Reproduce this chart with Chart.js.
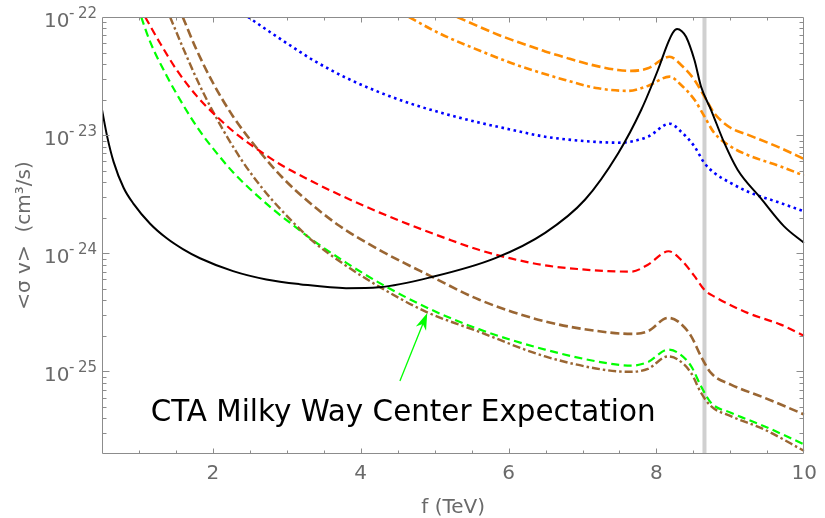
<!DOCTYPE html>
<html>
<head>
<meta charset="utf-8">
<script src="https://cdn.jsdelivr.net/npm/chart.js@4.4.1/dist/chart.umd.min.js"></script>
<style>
  html, body { margin: 0; padding: 0; background: #ffffff; }
  #c { display: block; }
</style>
</head>
<body>
<canvas id="c" width="825" height="518"></canvas>
<script>
// ---- data: f in TeV, <sigma v> in cm^3/s ----
const blackF  = [0.5, 0.568, 0.657, 0.792, 0.927, 1.151, 1.376, 1.600, 1.825, 2.273, 2.723, 3.172, 3.801, 4.249, 4.963, 5.821, 6.494, 7.033, 7.481, 7.795, 8.020, 8.155, 8.222, 8.280, 8.343, 8.401, 8.515, 8.603, 8.738, 8.918, 9.098, 9.411, 9.727, 10.0];
const blackSV = [1.64e-23, 9.86e-24, 5.94e-24, 3.59e-24, 2.62e-24, 1.78e-24, 1.34e-24, 1.08e-24, 9.08e-25, 7.06e-25, 6.0e-25, 5.48e-25, 5.07e-25, 5.16e-25, 6.3e-25, 9.1e-25, 1.49e-24, 2.84e-24, 7.0e-24, 1.64e-23, 3.56e-23, 6.0e-23, 7.36e-23, 7.9e-23, 7.57e-23, 6.8e-23, 4.3e-23, 2.58e-23, 1.64e-23, 8.6e-24, 5.1e-24, 2.93e-24, 1.69e-24, 1.22e-24];

const blueF  = [2.475, 2.812, 3.172, 3.351, 3.801, 4.249, 4.698, 5.148, 5.596, 6.044, 6.494, 6.943, 7.212, 7.481, 7.885, 8.178, 8.334, 8.515, 8.649, 8.784, 9.007, 9.232, 9.681, 10.0];
const blueSV = [1.0e-22, 7.18e-23, 5.1e-23, 4.33e-23, 3.06e-23, 2.31e-23, 1.83e-23, 1.51e-23, 1.28e-23, 1.11e-23, 9.7e-24, 9.0e-24, 8.74e-24, 8.63e-24, 9.7e-24, 1.25e-23, 1.07e-23, 8.0e-24, 5.8e-24, 4.78e-24, 3.93e-24, 3.33e-24, 2.66e-24, 2.26e-24];

const orangeF  = [5.304, 5.596, 5.865, 6.044, 6.314, 6.494, 6.764, 6.943, 7.212, 7.481, 7.661, 7.885, 8.178, 8.334, 8.515, 8.649, 8.784, 9.007, 9.232, 9.681, 10.0];
const orangeSV = [1.0e-22, 8.3e-23, 7.05e-23, 6.4e-23, 5.6e-23, 5.11e-23, 4.55e-23, 4.21e-23, 3.82e-23, 3.56e-23, 3.5e-23, 3.68e-23, 4.61e-23, 3.93e-23, 2.93e-23, 2.12e-23, 1.53e-23, 1.15e-23, 1.01e-23, 7.76e-24, 6.27e-24];

const orangeDotF  = [4.653, 5.057, 5.640, 6.044, 6.314, 6.764, 7.212, 7.616, 7.885, 8.178, 8.334, 8.515, 8.649, 8.784, 9.007, 9.232, 9.681, 10.0];
const orangeDotSV = [1.0e-22, 7.3e-23, 5.1e-23, 4.06e-23, 3.56e-23, 2.93e-23, 2.49e-23, 2.37e-23, 2.61e-23, 3.13e-23, 2.66e-23, 1.99e-23, 1.44e-23, 1.04e-23, 8.0e-24, 6.8e-24, 5.43e-24, 4.53e-24];

const redF  = [1.084, 1.286, 1.511, 1.780, 2.050, 2.364, 2.677, 2.902, 3.351, 3.801, 4.249, 4.698, 5.148, 5.596, 6.044, 6.494, 6.943, 7.347, 7.661, 7.885, 8.164, 8.334, 8.515, 8.649, 8.784, 9.232, 9.681, 10.0];
const redSV = [1.0e-22, 6.0e-23, 3.56e-23, 2.15e-23, 1.44e-23, 9.7e-24, 7.05e-24, 5.7e-24, 4.03e-24, 2.95e-24, 2.22e-24, 1.71e-24, 1.34e-24, 1.07e-24, 9.0e-25, 7.9e-25, 7.35e-25, 7.06e-25, 7.0e-25, 8.0e-25, 1.04e-24, 8.8e-25, 6.4e-25, 4.9e-25, 4.3e-25, 3.13e-25, 2.49e-25, 2.0e-25];

const brownF  = [1.592, 1.780, 2.004, 2.273, 2.633, 2.943, 3.262, 3.710, 4.249, 4.967, 5.596, 6.494, 7.347, 7.661, 7.885, 8.155, 8.290, 8.469, 8.603, 8.738, 9.007, 9.457, 10.0];
const brownSV = [1.0e-22, 5.26e-23, 2.75e-23, 1.44e-23, 7.26e-24, 4.36e-24, 2.84e-24, 1.71e-24, 1.07e-24, 6.31e-25, 4.06e-25, 2.65e-25, 2.14e-25, 2.08e-25, 2.19e-25, 2.84e-25, 2.65e-25, 1.99e-25, 1.34e-25, 9.7e-26, 7.74e-26, 6.0e-26, 4.32e-26];

const brownDotF  = [1.421, 1.600, 1.780, 1.960, 2.185, 2.408, 2.677, 2.902, 3.351, 3.801, 4.249, 4.878, 5.596, 6.494, 7.347, 7.661, 7.885, 8.155, 8.290, 8.469, 8.603, 8.738, 9.007, 9.457, 10.0];
const brownDotSV = [1.0e-22, 5.4e-23, 3.0e-23, 1.77e-23, 9.86e-24, 5.9e-24, 3.5e-24, 2.41e-24, 1.27e-24, 7.85e-25, 5.22e-25, 3.21e-25, 2.17e-25, 1.34e-25, 1.02e-25, 9.93e-26, 1.05e-25, 1.34e-25, 1.26e-25, 9.7e-26, 6.6e-26, 5.08e-26, 4.18e-26, 3.23e-26, 2.12e-26];

const greenF  = [1.030, 1.152, 1.376, 1.600, 1.825, 2.050, 2.273, 2.498, 2.812, 3.172, 3.351, 3.801, 4.294, 4.923, 5.596, 6.494, 7.347, 7.661, 7.885, 8.155, 8.290, 8.469, 8.603, 8.738, 9.007, 9.457, 10.0];
const greenSV = [1.0e-22, 6.15e-23, 3.17e-23, 1.79e-23, 1.08e-23, 7.08e-24, 4.85e-24, 3.52e-24, 2.36e-24, 1.57e-24, 1.29e-24, 8.34e-25, 5.43e-25, 3.4e-25, 2.28e-25, 1.53e-25, 1.17e-25, 1.12e-25, 1.20e-25, 1.53e-25, 1.44e-25, 1.11e-25, 7.5e-26, 5.43e-26, 4.47e-26, 3.44e-26, 2.41e-26];

// vertical reference band
const bandF = 8.65;

// axes
const xTicks = [2, 4, 6, 8, 10];
const yDecades = [1e-25, 1e-24, 1e-23, 1e-22];
const X_MIN = 0.5, X_MAX = 10;
const Y_MIN = 2.03e-26, Y_MAX = 1e-22;

// annotation
const noteText = 'CTA Milky Way Center Expectation';
const notePos = { x: 1.158, y: 3.79e-26 };
const arrowTail = { x: 4.53, y: 8.3e-26 };
const arrowTip  = { x: 4.90, y: 3.13e-25 };

// ---- styles ----
const FONT = "'DejaVu Sans', sans-serif";
const TEXT_GRAY = '#6a6a6a';
const FRAME_GRAY = '#8c8c8c';
const BROWN = '#9a6633';
const ORANGE = '#ff8c00';
const GREEN = '#00ff00';

const pts = (f, s) => f.map((x, i) => ({ x: x, y: s[i] }));

function series(data, color, width, dash) {
  return {
    data: data,
    borderColor: color,
    borderWidth: width,
    borderDash: dash,
    borderCapStyle: 'butt',
    pointRadius: 0,
    fill: false,
    cubicInterpolationMode: 'monotone',
    order: 1
  };
}

const datasets = [
  series(pts(blackF, blackSV), '#000000', 2, []),
  series(pts(blueF, blueSV), '#0000ff', 2.6, [2.6, 3.6]),
  series(pts(orangeF, orangeSV), ORANGE, 2.6, [9, 4]),
  series(pts(orangeDotF, orangeDotSV), ORANGE, 2.6, [8, 3.5, 3, 3.5]),
  series(pts(redF, redSV), '#ff0000', 2.2, [8, 4.5]),
  series(pts(brownF, brownSV), BROWN, 2.6, [9, 4]),
  series(pts(brownDotF, brownDotSV), BROWN, 2.4, [8, 3, 2.5, 3]),
  series(pts(greenF, greenSV), GREEN, 2.2, [8, 4.5]),
  {
    data: [{ x: bandF, y: Y_MIN }, { x: bandF, y: Y_MAX }],
    borderColor: 'rgba(200,200,200,0.85)',
    borderWidth: 4,
    pointRadius: 0,
    fill: false,
    order: 10
  }
];

// box frame with inward ticks on all four sides, plus power-of-ten labels
const framePlugin = {
  id: 'frame',
  afterDatasetsDraw(chart) {
    const { ctx, chartArea: a, scales: { x, y } } = chart;
    const L = Math.round(a.left) + 0.5, R = Math.round(a.right) - 0.5;
    const T = Math.round(a.top) + 0.5, B = Math.round(a.bottom) - 0.5;
    ctx.save();
    ctx.strokeStyle = FRAME_GRAY;
    ctx.lineWidth = 1;
    ctx.beginPath();
    ctx.rect(L, T, R - L, B - T);
    ctx.stroke();
    ctx.beginPath();
    for (let k = 1; k * 0.5 + X_MIN < X_MAX - 1e-9; k++) {
      const v = X_MIN + k * 0.5;
      const major = Math.abs(v - Math.round(v)) < 1e-9 && Math.round(v) % 2 === 0;
      const len = major ? 5 : 3;
      const px = Math.round(x.getPixelForValue(v)) + 0.5;
      ctx.moveTo(px, B); ctx.lineTo(px, B - len);
      ctx.moveTo(px, T); ctx.lineTo(px, T + len);
    }
    for (let e = -26; e <= -23; e++) {
      for (let m = 1; m <= 9; m++) {
        const v = m * Math.pow(10, e);
        if (v <= Y_MIN || v >= Y_MAX * 0.999) continue;
        const len = m === 1 ? 7 : 4;
        const py = Math.round(y.getPixelForValue(v)) + 0.5;
        ctx.moveTo(L, py); ctx.lineTo(L + len, py);
        ctx.moveTo(R, py); ctx.lineTo(R - len, py);
      }
    }
    ctx.stroke();

    // y labels: "10" with a raised exponent
    ctx.fillStyle = TEXT_GRAY;
    ctx.textBaseline = 'alphabetic';
    ctx.textAlign = 'right';
    const rightEdge = a.left - 5;
    yDecades.forEach(v => {
      const py = y.getPixelForValue(v);
      const e = Math.round(Math.log10(v));
      const digits = String(Math.abs(e));
      ctx.font = '15px ' + FONT;
      const wd = ctx.measureText(digits).width;
      ctx.fillText(digits, rightEdge, py + 1);
      const minusRight = rightEdge - wd - 3.5;
      ctx.fillText('-', minusRight, py + 1);
      const wm = ctx.measureText('-').width;
      ctx.font = '20px ' + FONT;
      ctx.fillText('10', minusRight - wm + 0.5, py + 10);
    });
    ctx.restore();
  }
};

// caption and arrow
const notePlugin = {
  id: 'note',
  afterDatasetsDraw(chart) {
    const { ctx, scales: { x, y } } = chart;
    ctx.save();
    ctx.fillStyle = '#000000';
    ctx.font = '29.4px ' + FONT;
    ctx.textAlign = 'left';
    ctx.textBaseline = 'alphabetic';
    ctx.fillText(noteText, x.getPixelForValue(notePos.x), y.getPixelForValue(notePos.y));

    const x0 = x.getPixelForValue(arrowTail.x), y0 = y.getPixelForValue(arrowTail.y);
    const x1 = x.getPixelForValue(arrowTip.x), y1 = y.getPixelForValue(arrowTip.y);
    const ang = Math.atan2(y1 - y0, x1 - x0);
    const headLen = 17, headHalf = 5.5, notch = 12;
    const ux = Math.cos(ang), uy = Math.sin(ang);
    const nx = -uy, ny = ux;
    ctx.strokeStyle = GREEN;
    ctx.fillStyle = GREEN;
    ctx.lineWidth = 1.3;
    ctx.beginPath();
    ctx.moveTo(x0, y0);
    ctx.lineTo(x1 - ux * notch, y1 - uy * notch);
    ctx.stroke();
    ctx.beginPath();
    ctx.moveTo(x1, y1);
    ctx.lineTo(x1 - ux * headLen + nx * headHalf, y1 - uy * headLen + ny * headHalf);
    ctx.lineTo(x1 - ux * notch, y1 - uy * notch);
    ctx.lineTo(x1 - ux * headLen - nx * headHalf, y1 - uy * headLen - ny * headHalf);
    ctx.closePath();
    ctx.fill();
    ctx.restore();
  }
};

new Chart(document.getElementById('c'), {
  type: 'line',
  data: { datasets: datasets },
  plugins: [framePlugin, notePlugin],
  options: {
    responsive: false,
    animation: false,
    devicePixelRatio: 1,
    layout: { padding: { top: 17, right: 17, left: 0, bottom: 0 } },
    plugins: { legend: { display: false }, tooltip: { enabled: false } },
    scales: {
      x: {
        type: 'linear',
        min: X_MIN,
        max: X_MAX,
        afterBuildTicks: s => { s.ticks = xTicks.map(v => ({ value: v })); },
        afterFit: s => { s.height = 64; },
        grid: { display: false, drawTicks: false },
        border: { display: false },
        ticks: {
          color: TEXT_GRAY,
          font: { family: FONT, size: 20 },
          padding: 8,
          maxRotation: 0,
          callback: v => String(v)
        },
        title: {
          display: true,
          text: 'f (TeV)',
          color: TEXT_GRAY,
          font: { family: FONT, size: 20, lineHeight: 1.0 },
          padding: { top: 0, bottom: 0 }
        }
      },
      y: {
        type: 'logarithmic',
        min: Y_MIN,
        max: Y_MAX,
        afterBuildTicks: s => { s.ticks = yDecades.map(v => ({ value: v })); },
        afterFit: s => { s.width = 102; },
        grid: { display: false, drawTicks: false },
        border: { display: false },
        ticks: { display: false },
        title: {
          display: true,
          text: '<σ v>  (cm³/s)',
          color: TEXT_GRAY,
          font: { family: FONT, size: 20 },
          padding: { top: 13, bottom: 0 }
        }
      }
    }
  }
});
</script>
</body>
</html>
